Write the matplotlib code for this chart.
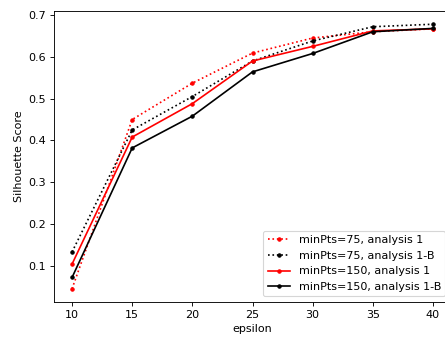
import matplotlib
matplotlib.use("Agg")
import matplotlib.pyplot as plt

# --------------------------------------
# Data
# --------------------------------------
epsilon = [10, 15, 20, 25, 30, 35, 40]

score_75_a1 = [0.045, 0.450, 0.537, 0.609, 0.645, 0.660, 0.667]
score_75_a1b = [0.133, 0.425, 0.505, 0.590, 0.638, 0.672, 0.678]
score_150_a1 = [0.104, 0.408, 0.488, 0.590, 0.625, 0.662, 0.667]
score_150_a1b = [0.072, 0.382, 0.458, 0.564, 0.608, 0.660, 0.668]

labels = [
    "minPts=75, analysis 1",
    "minPts=75, analysis 1-B",
    "minPts=150, analysis 1",
    "minPts=150, analysis 1-B",
]

# --------------------------------------
# Plot (dpi 80 so text/lines come out at the reference's scale)
# --------------------------------------
dpi = 80
fig = plt.figure(figsize=(445 / dpi, 341 / dpi), dpi=dpi)
# axes run slightly past the right edge, as in the cropped original
ax = fig.add_axes([54 / 445, 39 / 341, 397 / 445, 291 / 341])

ax.plot(epsilon, score_75_a1, color="red", linestyle=":", marker=".", label=labels[0])
ax.plot(epsilon, score_75_a1b, color="black", linestyle=":", marker=".", label=labels[1])
ax.plot(epsilon, score_150_a1, color="red", linestyle="-", marker=".", label=labels[2])
ax.plot(epsilon, score_150_a1b, color="black", linestyle="-", marker=".", label=labels[3])

ax.set_xlabel("epsilon")
ax.set_ylabel("Silhouette Score")
ax.legend(loc="lower right")

fig.savefig("out.png", dpi=dpi)
plt.close(fig)
